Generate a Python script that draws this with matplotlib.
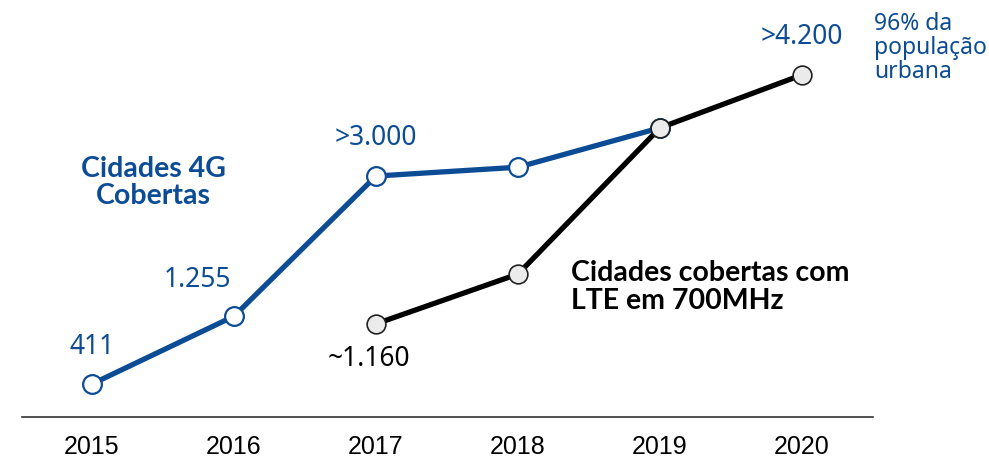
import matplotlib.pyplot as plt

years = ['2015', '2016', '2017', '2018', '2019', '2020']
# cidades 4G cobertas (2015-2019)
blue_x = [0, 1, 2, 3, 4]
blue_y = [411, 1255, 3000, 3110, 3600]
# cidades cobertas com LTE em 700MHz (2017-2020)
black_x = [2, 3, 4, 5]
black_y = [1160, 1780, 3600, 4260]

blue = '#0B4C94'
num_font = ['Noto Sans', 'DejaVu Sans']
bold_font = ['Lato', 'Open Sans', 'DejaVu Sans']

fig = plt.figure(figsize=(9.89, 4.59), dpi=100)
ax = fig.add_axes([0, 0, 1, 1])
ax.set_xlim(-0.648, 6.317)
ax.set_ylim(-523, 5192)
ax.axis('off')

ax.plot(blue_x, blue_y, color=blue, lw=3.8, marker='o', ms=13.5,
        mfc='white', mec=blue, mew=1.6, zorder=3, solid_capstyle='round')
ax.plot(black_x, black_y, color='black', lw=3.8, marker='o', ms=13.5,
        mfc='#EBEBEB', mec='#222222', mew=1.2, zorder=4, solid_capstyle='round')

# base line
ax.axhline(0, xmin=22/989, xmax=873/989, color='#333333', lw=1.2)
for i, y in enumerate(years):
    ax.text(i, -370, y, ha='center', va='center', fontsize=18,
            family=['Liberation Sans', 'DejaVu Sans'])

# value labels
ax.text(0, 411 + 290, '411', ha='center', va='bottom', fontsize=19, color=blue, family=num_font)
ax.text(1 - 0.26, 1255 + 280, '1.255', ha='center', va='bottom', fontsize=19, color=blue, family=num_font)
ax.text(2, 3000 + 300, '>3.000', ha='center', va='bottom', fontsize=19, color=blue, family=num_font)
ax.text(5, 4260 + 300, '>4.200', ha='center', va='bottom', fontsize=19, color=blue, family=num_font)
ax.text(2 - 0.05, 1160 - 260, '~1.160', ha='center', va='top', fontsize=19, color='black', family=num_font)

ax.text(5.51, 5040, '96% da\npopulação\nurbana', ha='left', va='top', fontsize=16.5,
        color=blue, family=num_font, linespacing=1.0)

ax.text(0.43, 3250, 'Cidades 4G\nCobertas', ha='center', va='top', fontsize=20.5,
        color=blue, fontweight='bold', family=bold_font, linespacing=1.05)
ax.text(3.37, 1960, 'Cidades cobertas com\nLTE em 700MHz', ha='left', va='top', fontsize=20.5,
        color='black', fontweight='bold', family=bold_font, linespacing=1.1)

fig.savefig('out.png', dpi=100)
